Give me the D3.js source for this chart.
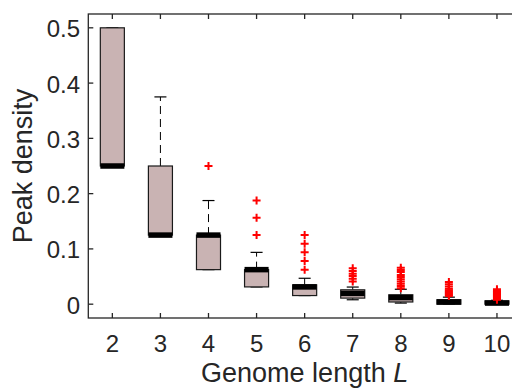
<!DOCTYPE html>
<html><head><meta charset="utf-8">
<script src="https://cdn.jsdelivr.net/npm/d3@7"></script>
<style>body{margin:0;background:#fff}svg{display:block}text{font-family:"Liberation Sans",Arial,Helvetica,sans-serif;fill:#262626}</style>
</head><body>
<svg id="c" width="512" height="389"></svg>
<script>
const categories = [2,3,4,5,6,7,8,9,10];
const q1      = [0.25, 0.125, 0.0625, 0.03125, 0.0156, 0.011, 0.004, 0.0, 0.0];
const medians = [0.25, 0.125, 0.125, 0.0625, 0.03125, 0.0195, 0.012, 0.004, 0.002];
const q3      = [0.5, 0.25, 0.125, 0.0625, 0.035, 0.026, 0.017, 0.008, 0.006];
const whiskerLow  = [0.25, 0.125, 0.0625, 0.03125, 0.0156, 0.008, 0.002, 0.0, 0.0];
const whiskerHigh = [0.5, 0.375, 0.1875, 0.09375, 0.046875, 0.031, 0.027, 0.0127, 0.007];
const outliers = [
  [],
  [],
  [0.25],
  [0.125, 0.15625, 0.1875],
  [0.0625, 0.078125, 0.09375, 0.109375, 0.125],
  [0.041, 0.046, 0.051, 0.055, 0.060, 0.065],
  [0.029, 0.033, 0.037, 0.041, 0.045, 0.049, 0.053, 0.058, 0.062, 0.066],
  [0.015, 0.017, 0.019, 0.021, 0.023, 0.025, 0.028, 0.032, 0.036, 0.040],
  [0.008, 0.010, 0.012, 0.014, 0.016, 0.018, 0.020, 0.022, 0.024, 0.027]
];
const yTicks = [0, 0.1, 0.2, 0.3, 0.4, 0.5];
const xTickLabels = ["2","3","4","5","6","7","8","9","10"];
const xLabel = "Genome length ";
const xLabelItalic = "L";
const yLabel = "Peak density";

const svg = d3.select("#c");
const L = 88.3, R = 521, T = 14, B = 318;
const x = d3.scaleLinear().domain([1.5, 10.5]).range([L, R]);
const y = d3.scaleLinear().domain([-0.025, 0.525]).range([B, T]);
const axisColor = "#262626";

const g = svg.append("g");
const boxW = 0.25; // half width in data units
categories.forEach((c, i) => {
  const cx = x(c);
  const hw = x(c + boxW) - cx;
  const capw = hw / 2;
  // whiskers
  if (whiskerHigh[i] > q3[i]) {
    g.append("line").attr("x1", cx).attr("x2", cx).attr("y1", y(q3[i])).attr("y2", y(whiskerHigh[i]))
      .attr("stroke", "#000").attr("stroke-width", 1).attr("stroke-dasharray", "8,5");
  }
  g.append("line").attr("x1", cx - capw).attr("x2", cx + capw).attr("y1", y(whiskerHigh[i])).attr("y2", y(whiskerHigh[i]))
    .attr("stroke", "#000").attr("stroke-width", 1.2);
  if (whiskerLow[i] < q1[i]) {
    g.append("line").attr("x1", cx).attr("x2", cx).attr("y1", y(q1[i])).attr("y2", y(whiskerLow[i]))
      .attr("stroke", "#000").attr("stroke-width", 1).attr("stroke-dasharray", "8,5");
  }
  g.append("line").attr("x1", cx - capw).attr("x2", cx + capw).attr("y1", y(whiskerLow[i])).attr("y2", y(whiskerLow[i]))
    .attr("stroke", "#000").attr("stroke-width", 1.2);
  // box
  g.append("rect").attr("x", cx - hw).attr("width", 2 * hw)
    .attr("y", y(q3[i])).attr("height", Math.max(0.5, y(q1[i]) - y(q3[i])))
    .attr("fill", "#c9b3b3").attr("stroke", "#1a1a1a").attr("stroke-width", 1.2);
  // median
  g.append("line").attr("x1", cx - hw).attr("x2", cx + hw).attr("y1", y(medians[i])).attr("y2", y(medians[i]))
    .attr("stroke", "#000").attr("stroke-width", 5.5);
  // outliers
  outliers[i].forEach(v => {
    const py = y(v), s = 4;
    g.append("path").attr("d", `M${cx - s},${py}H${cx + s}M${cx},${py - s}V${py + s}`)
      .attr("stroke", "#ff0000").attr("stroke-width", 2).attr("fill", "none");
  });
});

// axes frame
const ax = svg.append("g");
ax.append("rect").attr("x", L).attr("y", T).attr("width", R - L).attr("height", B - T)
  .attr("fill", "none").attr("stroke", axisColor).attr("stroke-width", 1.3);
const tl = 5;
categories.forEach((c, i) => {
  ax.append("line").attr("x1", x(c)).attr("x2", x(c)).attr("y1", B).attr("y2", B - tl).attr("stroke", axisColor).attr("stroke-width", 1.3);
  ax.append("line").attr("x1", x(c)).attr("x2", x(c)).attr("y1", T).attr("y2", T + tl).attr("stroke", axisColor).attr("stroke-width", 1.3);
  ax.append("text").attr("x", x(c)).attr("y", 352).attr("text-anchor", "middle").attr("font-size", 24).text(xTickLabels[i]);
});
yTicks.forEach(v => {
  ax.append("line").attr("x1", L).attr("x2", L + tl).attr("y1", y(v)).attr("y2", y(v)).attr("stroke", axisColor).attr("stroke-width", 1.3);
  ax.append("line").attr("x1", R).attr("x2", R - tl).attr("y1", y(v)).attr("y2", y(v)).attr("stroke", axisColor).attr("stroke-width", 1.3);
  ax.append("text").attr("x", 80).attr("y", y(v) + 9.5).attr("text-anchor", "end").attr("font-size", 24).text(d3.format("")(v));
});
const xl = ax.append("text").attr("x", (L + R) / 2).attr("y", 382).attr("text-anchor", "middle").attr("font-size", 27);
xl.append("tspan").text(xLabel);
xl.append("tspan").attr("font-style", "italic").text(xLabelItalic);
ax.append("text").attr("transform", `translate(31.5,${(T + B) / 2}) rotate(-90)`).attr("text-anchor", "middle").attr("font-size", 27).text(yLabel);
</script>
</body></html>
